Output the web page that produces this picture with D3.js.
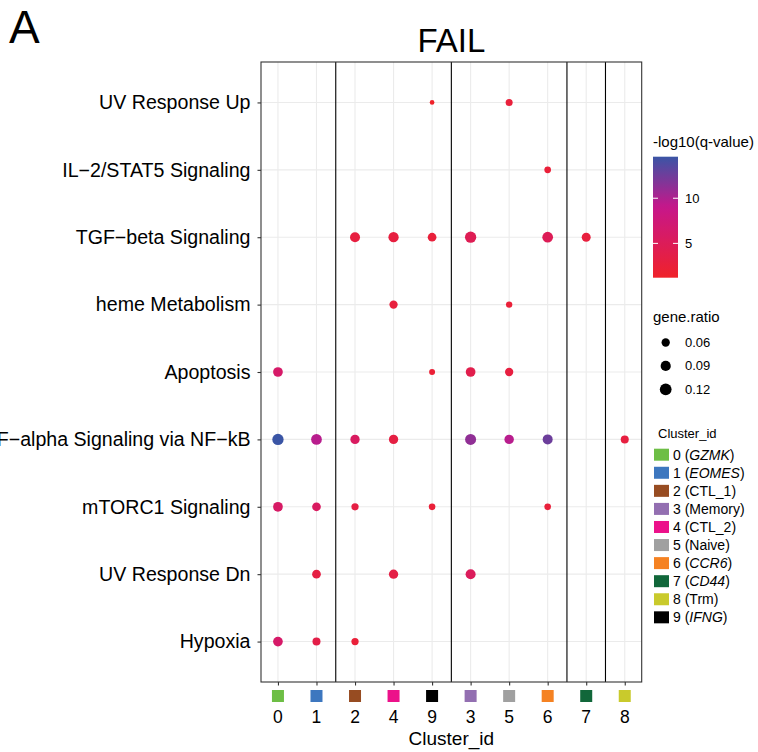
<!DOCTYPE html>
<html>
<head>
<meta charset="utf-8">
<script src="https://cdn.jsdelivr.net/npm/d3@7"></script>
<style>
  body { margin: 0; background: #fff; }
  svg { font-family: "Liberation Sans", Arial, sans-serif; }
</style>
</head>
<body>
<div id="chart"></div>
<script>
// pathways, top to bottom
var pathways = ["UV Response Up", "IL\u22122/STAT5 Signaling", "TGF\u2212beta Signaling",
  "heme Metabolism", "Apoptosis", "TNF\u2212alpha Signaling via NF\u2212kB",
  "mTORC1 Signaling", "UV Response Dn", "Hypoxia"];
// cluster order on the x axis
var clusterOrder = ["0", "1", "2", "4", "9", "3", "5", "6", "7", "8"];
// boxes are split after these clusters
var groupEnds = ["1", "9", "6", "7"];

// one entry per dot
var dotPathway = [0, 0, 1, 2, 2, 2, 2, 2, 2, 3, 3, 4, 4, 4, 4,
  5, 5, 5, 5, 5, 5, 5, 5, 6, 6, 6, 6, 6, 7, 7, 7, 8, 8, 8];
var dotCluster = ["9", "5", "6", "2", "4", "9", "3", "6", "7", "4", "5", "0", "9", "3", "5",
  "0", "1", "2", "4", "3", "5", "6", "8", "0", "1", "2", "9", "6", "1", "4", "3", "0", "1", "2"];
var geneRatio = [0.019, 0.043, 0.039, 0.087, 0.092, 0.066, 0.111, 0.100, 0.070, 0.060, 0.035,
  0.082, 0.031, 0.082, 0.060,
  0.111, 0.100, 0.075, 0.075, 0.105, 0.078, 0.087, 0.056,
  0.082, 0.066, 0.046, 0.039, 0.039, 0.066, 0.075, 0.087, 0.082, 0.056, 0.046];
var logQ = [1.2, 2.6, 2.4, 3.0, 3.0, 2.6, 4.6, 4.8, 2.8, 2.8, 2.4,
  6.2, 2.2, 4.0, 3.0,
  14.6, 9.6, 5.6, 3.2, 11.2, 9.6, 12.6, 3.0,
  6.0, 5.6, 3.2, 2.4, 2.6, 3.2, 3.4, 5.2, 6.2, 3.6, 2.4];

// cluster legend (id order)
var clusterIds = ["0", "1", "2", "3", "4", "5", "6", "7", "8", "9"];
var clusterNames = ["GZMK", "EOMES", "CTL_1", "Memory", "CTL_2", "Naive", "CCR6", "CD44", "Trm", "IFNG"];
var clusterItalic = [true, true, false, false, false, false, true, true, false, true];
var clusterColors = ["#6DBE45", "#3D77BF", "#974C22", "#936FB1", "#EC118A", "#A0A0A0",
  "#F58222", "#11673A", "#C9CA2C", "#000000"];
var sizeBreaks = [0.06, 0.09, 0.12];
var colorBreaks = [5, 10];

var width = 758, height = 752;
var panel = {left: 261, right: 641.7, top: 62, bottom: 682};

var svg = d3.select("#chart").append("svg")
  .attr("width", width)
  .attr("height", height);

var x = d3.scalePoint()
  .domain(clusterOrder)
  .range([panel.left, panel.right])
  .padding(0.44);

var y = d3.scalePoint()
  .domain(pathways)
  .range([panel.top, panel.bottom])
  .padding(0.6);

var qExt = d3.extent(logQ);
var color = d3.scaleLinear()
  .domain([qExt[0], 9, qExt[1]])
  .range(["#F0222A", "#C7168A", "#3A55A5"])
  .interpolate(d3.interpolateRgb);

var r = d3.scaleSqrt()
  .domain([0, 0.12])
  .range([0, 5.87]);

var dots = geneRatio.map(function(g, i){
  return {path: pathways[dotPathway[i]], cl: dotCluster[i], ratio: g, q: logQ[i]};
});

// grid
svg.append("g").selectAll("line.gx")
  .data(clusterOrder).enter().append("line")
  .attr("x1", function(d){ return x(d); }).attr("x2", function(d){ return x(d); })
  .attr("y1", panel.top).attr("y2", panel.bottom)
  .attr("stroke", "#EBEBEB").attr("stroke-width", 1.1);
svg.append("g").selectAll("line.gy")
  .data(pathways).enter().append("line")
  .attr("y1", function(d){ return y(d); }).attr("y2", function(d){ return y(d); })
  .attr("x1", panel.left).attr("x2", panel.right)
  .attr("stroke", "#EBEBEB").attr("stroke-width", 1.1);

// group separators
svg.append("g").selectAll("line")
  .data(groupEnds).enter().append("line")
  .attr("x1", function(d){ return x(d) + x.step() / 2; })
  .attr("x2", function(d){ return x(d) + x.step() / 2; })
  .attr("y1", panel.top).attr("y2", panel.bottom)
  .attr("stroke", "#000").attr("stroke-width", 1.1);

// dots
svg.append("g").selectAll("circle")
  .data(dots).enter().append("circle")
  .attr("cx", function(d){ return x(d.cl); })
  .attr("cy", function(d){ return y(d.path); })
  .attr("r", function(d){ return r(d.ratio); })
  .attr("fill", function(d){ return color(d.q); });

// panel border
svg.append("rect")
  .attr("x", panel.left).attr("y", panel.top)
  .attr("width", panel.right - panel.left).attr("height", panel.bottom - panel.top)
  .attr("fill", "none").attr("stroke", "#333").attr("stroke-width", 1.1);

// y axis
var yAxis = svg.append("g")
  .attr("transform", "translate(" + panel.left + ",0)")
  .call(d3.axisLeft(y).tickSize(3.5).tickPadding(7));
yAxis.select(".domain").remove();
yAxis.selectAll(".tick line").attr("stroke", "#333").attr("stroke-width", 1.1);
yAxis.selectAll(".tick text")
  .attr("fill", "#000")
  .style("font-size", "19.6px")
  .style("font-family", "Liberation Sans, Arial, sans-serif");

// x axis with coloured keys
var xAxis = svg.append("g")
  .attr("transform", "translate(0," + panel.bottom + ")")
  .call(d3.axisBottom(x).tickSize(3.5).tickFormat(""));
xAxis.select(".domain").remove();
xAxis.selectAll(".tick line").attr("stroke", "#333").attr("stroke-width", 1.1);

svg.append("g").selectAll("rect")
  .data(clusterOrder).enter().append("rect")
  .attr("x", function(d){ return x(d) - 6; })
  .attr("y", 690)
  .attr("width", 12).attr("height", 12)
  .attr("fill", function(d){ return clusterColors[+d]; });

svg.append("g").selectAll("text")
  .data(clusterOrder).enter().append("text")
  .attr("x", function(d){ return x(d); })
  .attr("y", 723)
  .attr("text-anchor", "middle")
  .style("font-size", "17.5px")
  .text(function(d){ return d; });

svg.append("text")
  .attr("x", (panel.left + panel.right) / 2)
  .attr("y", 745)
  .attr("text-anchor", "middle")
  .style("font-size", "19px")
  .text("Cluster_id");

// title + panel letter
svg.append("text")
  .attr("x", (panel.left + panel.right) / 2)
  .attr("y", 51.5)
  .attr("text-anchor", "middle")
  .style("font-size", "33px")
  .text("FAIL");
svg.append("text")
  .attr("x", 9)
  .attr("y", 42.5)
  .style("font-size", "46px")
  .text("A");

// colour bar legend
var cb = {x: 653, y: 156.7, w: 25, h: 121};
var cbY = d3.scaleLinear().domain(qExt).range([cb.y + cb.h, cb.y]);
var grad = svg.append("defs").append("linearGradient")
  .attr("id", "qgrad").attr("x1", 0).attr("x2", 0).attr("y1", 1).attr("y2", 0);
d3.range(0, 1.0001, 0.05).forEach(function(t){
  grad.append("stop")
    .attr("offset", t)
    .attr("stop-color", color(qExt[0] + t * (qExt[1] - qExt[0])));
});
svg.append("text").attr("x", 653).attr("y", 147).style("font-size", "15px").text("-log10(q-value)");
svg.append("rect")
  .attr("x", cb.x).attr("y", cb.y).attr("width", cb.w).attr("height", cb.h)
  .attr("fill", "url(#qgrad)");
var cbTicks = svg.append("g").selectAll("g").data(colorBreaks).enter().append("g");
cbTicks.append("line")
  .attr("x1", cb.x).attr("x2", cb.x + 5)
  .attr("y1", function(d){ return cbY(d); }).attr("y2", function(d){ return cbY(d); })
  .attr("stroke", "#fff").attr("stroke-width", 1);
cbTicks.append("line")
  .attr("x1", cb.x + cb.w - 5).attr("x2", cb.x + cb.w)
  .attr("y1", function(d){ return cbY(d); }).attr("y2", function(d){ return cbY(d); })
  .attr("stroke", "#fff").attr("stroke-width", 1);
cbTicks.append("text")
  .attr("x", 685)
  .attr("y", function(d){ return cbY(d); })
  .attr("dy", "0.35em")
  .style("font-size", "13px")
  .text(function(d){ return d; });

// size legend
svg.append("text").attr("x", 653).attr("y", 321.5).style("font-size", "15px").text("gene.ratio");
var sz = svg.append("g").selectAll("g").data(sizeBreaks).enter().append("g")
  .attr("transform", function(d, i){ return "translate(0," + (342.5 + i * 23.4) + ")"; });
sz.append("circle").attr("cx", 665.7).attr("cy", 0)
  .attr("r", function(d){ return r(d); }).attr("fill", "#000");
sz.append("text").attr("x", 685).attr("dy", "0.35em")
  .style("font-size", "13px")
  .text(function(d){ return d.toFixed(2); });

// cluster legend
svg.append("text").attr("x", 658).attr("y", 438).style("font-size", "13px").text("Cluster_id");
var cl = svg.append("g").selectAll("g").data(clusterIds).enter().append("g")
  .attr("transform", function(d, i){ return "translate(0," + (454.7 + i * 18.07) + ")"; });
cl.append("rect").attr("x", 654).attr("y", -6).attr("width", 15).attr("height", 12)
  .attr("fill", function(d, i){ return clusterColors[i]; });
var lt = cl.append("text").attr("x", 673).attr("dy", "0.36em").style("font-size", "14px");
lt.append("tspan").text(function(d){ return d + " ("; });
lt.append("tspan")
  .style("font-style", function(d, i){ return clusterItalic[i] ? "italic" : "normal"; })
  .text(function(d, i){ return clusterNames[i]; });
lt.append("tspan").text(")");
</script>
</body>
</html>
